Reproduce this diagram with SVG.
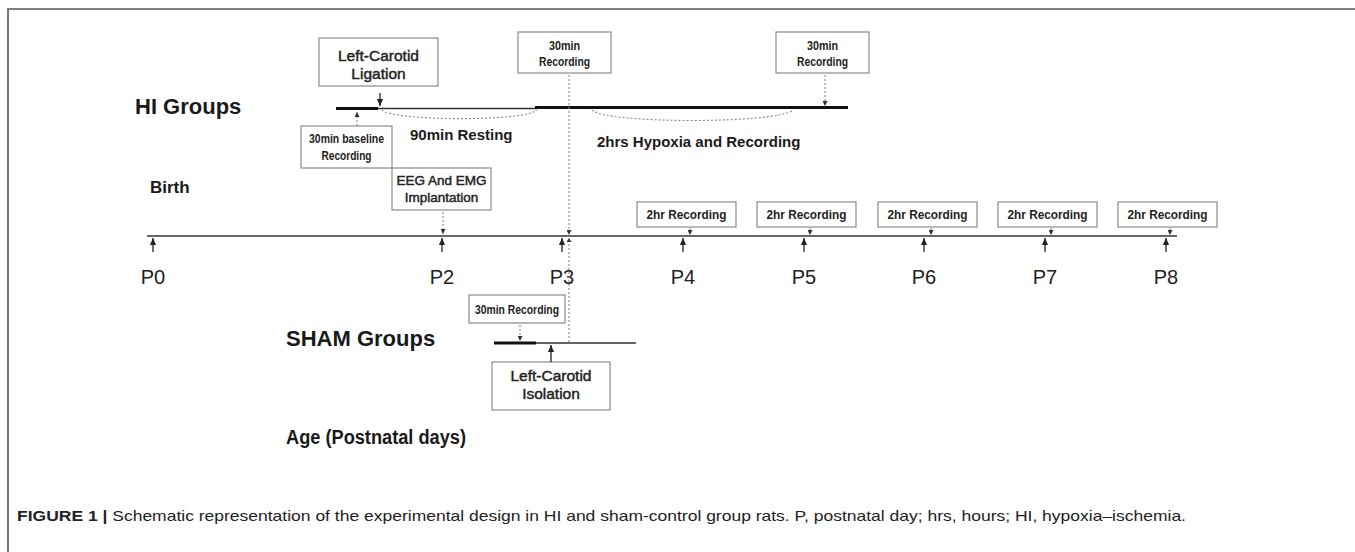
<svg xmlns="http://www.w3.org/2000/svg" width="1355" height="552" viewBox="0 0 1355 552">
<style>
.box{fill:#fff;stroke:#8a8a8a;stroke-width:1.2}
.dot{fill:none;stroke:#888;stroke-width:1.1;stroke-dasharray:2 2}
.ln{fill:none;stroke:#333;stroke-width:1.4}
.thk{fill:none;stroke:#111;stroke-width:3}
.arr{fill:none;stroke:#333;stroke-width:1.4}
.hd{font-family:"Liberation Sans",Arial,sans-serif;font-weight:bold;fill:#1a1a1a}
.reg{font-family:"Liberation Sans",Arial,sans-serif;fill:#222;stroke:#222;stroke-width:0.45}
.cnd{font-family:"Liberation Sans",Arial,sans-serif;font-weight:bold;font-size:13px;fill:#222}
.pl{font-family:"Liberation Sans",Arial,sans-serif;font-size:20px;fill:#222}
.cap{font-family:"Liberation Sans",Arial,sans-serif;font-size:15px;fill:#222}
</style>
<defs>
<marker id="ah" viewBox="0 0 8 8" refX="8" refY="4" markerWidth="7" markerHeight="7" orient="auto" markerUnits="userSpaceOnUse"><path d="M0,0.5 L8,4 L0,7.5 z" fill="#222"/></marker>
<marker id="ad" viewBox="0 0 6 6" refX="6" refY="3" markerWidth="5" markerHeight="5" orient="auto" markerUnits="userSpaceOnUse"><path d="M0,0 L6,3 L0,6 z" fill="#333"/></marker>
</defs>
<rect width="1355" height="552" fill="#fff"/>
<!-- frame -->
<path d="M1355,9 H8 V552" fill="none" stroke="#555" stroke-width="1.6"/>

<!-- group labels -->
<text class="hd" x="135" y="114" font-size="22">HI Groups</text>
<text class="hd" x="150" y="193" font-size="17">Birth</text>
<text class="hd" x="286" y="346" font-size="22">SHAM Groups</text>
<text class="hd" x="286" y="444" font-size="20" textLength="180" lengthAdjust="spacingAndGlyphs">Age (Postnatal days)</text>
<text class="hd" x="410" y="140" font-size="15">90min Resting</text>
<text class="hd" x="597" y="147" font-size="15">2hrs Hypoxia and Recording</text>

<!-- P labels -->
<g id="plabels">
<text class="pl" x="153" y="284" text-anchor="middle">P0</text>
<text class="pl" x="442" y="284" text-anchor="middle">P2</text>
<text class="pl" x="562" y="284" text-anchor="middle">P3</text>
<text class="pl" x="683" y="284" text-anchor="middle">P4</text>
<text class="pl" x="804" y="284" text-anchor="middle">P5</text>
<text class="pl" x="924" y="284" text-anchor="middle">P6</text>
<text class="pl" x="1045" y="284" text-anchor="middle">P7</text>
<text class="pl" x="1166" y="284" text-anchor="middle">P8</text>
</g>

<!-- nodes -->
<g id="ligation">
<rect class="box" x="319" y="38" width="119" height="48"/>
<text class="reg" x="378.5" y="61" font-size="15.5" text-anchor="middle">Left-Carotid</text>
<text class="reg" x="378.5" y="79" font-size="15.5" text-anchor="middle">Ligation</text>
</g>
<g id="rec30a">
<rect class="box" x="518" y="32" width="93" height="41"/>
<text class="cnd" x="564.5" y="50" text-anchor="middle" textLength="31" lengthAdjust="spacingAndGlyphs">30min</text>
<text class="cnd" x="564.5" y="66" text-anchor="middle" textLength="51" lengthAdjust="spacingAndGlyphs">Recording</text>
</g>
<g id="rec30b">
<rect class="box" x="776" y="32" width="93" height="41"/>
<text class="cnd" x="822.5" y="50" text-anchor="middle" textLength="31" lengthAdjust="spacingAndGlyphs">30min</text>
<text class="cnd" x="822.5" y="66" text-anchor="middle" textLength="51" lengthAdjust="spacingAndGlyphs">Recording</text>
</g>
<g id="baseline">
<rect class="box" x="301" y="126" width="91" height="42"/>
<text class="cnd" x="346.5" y="143" text-anchor="middle" textLength="75" lengthAdjust="spacingAndGlyphs">30min baseline</text>
<text class="cnd" x="346.5" y="160" text-anchor="middle" textLength="50" lengthAdjust="spacingAndGlyphs">Recording</text>
</g>
<g id="implant">
<rect class="box" x="392" y="168" width="99" height="42"/>
<text class="reg" x="441.5" y="185" font-size="13.5" text-anchor="middle">EEG And EMG</text>
<text class="reg" x="441.5" y="202" font-size="13.5" text-anchor="middle">Implantation</text>
</g>
<g id="rec2h-p4"><rect class="box" x="637" y="202" width="99" height="25"/><text class="cnd" x="686.5" y="219" text-anchor="middle" textLength="80" lengthAdjust="spacingAndGlyphs">2hr Recording</text></g>
<g id="rec2h-p5"><rect class="box" x="757" y="202" width="99" height="25"/><text class="cnd" x="806.5" y="219" text-anchor="middle" textLength="80" lengthAdjust="spacingAndGlyphs">2hr Recording</text></g>
<g id="rec2h-p6"><rect class="box" x="878" y="202" width="99" height="25"/><text class="cnd" x="927.5" y="219" text-anchor="middle" textLength="80" lengthAdjust="spacingAndGlyphs">2hr Recording</text></g>
<g id="rec2h-p7"><rect class="box" x="998" y="202" width="99" height="25"/><text class="cnd" x="1047.5" y="219" text-anchor="middle" textLength="80" lengthAdjust="spacingAndGlyphs">2hr Recording</text></g>
<g id="rec2h-p8"><rect class="box" x="1118" y="202" width="99" height="25"/><text class="cnd" x="1167.5" y="219" text-anchor="middle" textLength="80" lengthAdjust="spacingAndGlyphs">2hr Recording</text></g>
<g id="rec30sham">
<rect class="box" x="469" y="295" width="96" height="28"/>
<text class="cnd" x="517" y="314" text-anchor="middle" textLength="84" lengthAdjust="spacingAndGlyphs">30min Recording</text>
</g>
<g id="isolation">
<rect class="box" x="492" y="362" width="118" height="48"/>
<text class="reg" x="551" y="381" font-size="15.5" text-anchor="middle">Left-Carotid</text>
<text class="reg" x="551" y="399" font-size="15.5" text-anchor="middle">Isolation</text>
</g>

<!-- connectors / timelines -->
<g id="connectors">
<!-- HI timeline -->
<path class="thk" d="M336,108.5 H378" stroke="#333"/>
<path class="ln" d="M378,108.5 H536"/>
<path class="thk" d="M535,107.5 H848"/>
<path class="dot" d="M382,110 C392,121 525,122 537,110"/>
<path class="dot" d="M592,110 C604,124 780,124 793,110"/>
<path class="arr" d="M380,93 V106" marker-end="url(#ah)"/>
<path class="dot" d="M357,126 V112" marker-end="url(#ad)"/>
<path class="dot" d="M825,75 V106" marker-end="url(#ad)"/>
<path class="dot" d="M569,75 V235" marker-end="url(#ad)"/>
<path class="dot" d="M569,240 V343"/>
<path d="M566.5,242 L569,238 L571.5,242 z" fill="#333"/>
<path class="dot" d="M443,212 V234" marker-end="url(#ad)"/>
<!-- main timeline -->
<path class="ln" d="M147,236 H1177"/>
<path class="arr" d="M153,252 V238" marker-end="url(#ah)"/>
<path class="arr" d="M442,252 V238" marker-end="url(#ah)"/>
<path class="arr" d="M562,252 V238" marker-end="url(#ah)"/>
<path class="arr" d="M683,252 V238" marker-end="url(#ah)"/>
<path class="arr" d="M804,252 V238" marker-end="url(#ah)"/>
<path class="arr" d="M924,252 V238" marker-end="url(#ah)"/>
<path class="arr" d="M1045,252 V238" marker-end="url(#ah)"/>
<path class="arr" d="M1166,252 V238" marker-end="url(#ah)"/>
<path class="dot" d="M690,228 V235" marker-end="url(#ad)"/>
<path class="dot" d="M810,228 V235" marker-end="url(#ad)"/>
<path class="dot" d="M931,228 V235" marker-end="url(#ad)"/>
<path class="dot" d="M1051,228 V235" marker-end="url(#ad)"/>
<path class="dot" d="M1170,228 V235" marker-end="url(#ad)"/>
<!-- SHAM timeline -->
<path class="thk" d="M494,343 H536"/>
<path class="ln" d="M536,343 H636"/>
<path class="dot" d="M520,325 V341" marker-end="url(#ad)"/>
<path class="arr" d="M551,362 V345" marker-end="url(#ah)"/>
</g>

<!-- caption -->
<text class="cap" x="17" y="521" textLength="1169" lengthAdjust="spacingAndGlyphs"><tspan font-weight="bold">FIGURE 1 |</tspan> Schematic representation of the experimental design in HI and sham-control group rats. P, postnatal day; hrs, hours; HI, hypoxia–ischemia.</text>
</svg>
